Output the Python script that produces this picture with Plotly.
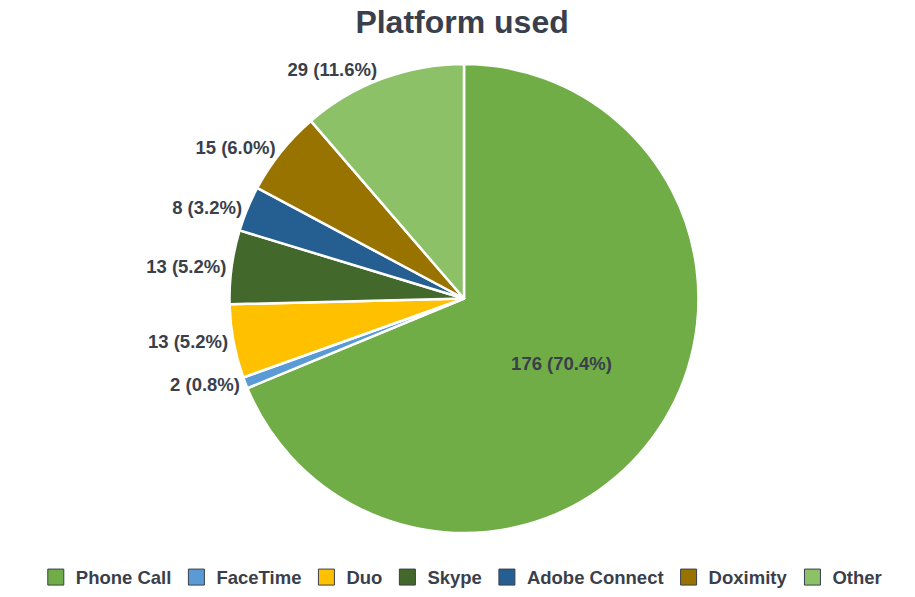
import plotly.graph_objects as go

platforms = ["Phone Call", "FaceTime", "Duo", "Skype", "Adobe Connect", "Doximity", "Other"]
counts = [176, 2, 13, 13, 8, 15, 29]
percent_labels = [70.4, 0.8, 5.2, 5.2, 3.2, 6.0, 11.6]
colors = ["#70AD47", "#5B9BD5", "#FFC000", "#43682B", "#255E91", "#997300", "#8CC168"]
text_positions = ["inside", "outside", "outside", "outside", "outside", "outside", "outside"]

TXT = "#3A3F4B"
FONT = "Liberation Sans"

fig = go.Figure()
fig.add_trace(go.Pie(
    labels=platforms,
    values=counts,
    customdata=percent_labels,
    sort=False,
    direction="clockwise",
    rotation=0,
    marker=dict(colors=colors, line=dict(color="white", width=2.5)),
    texttemplate="%{value} (%{customdata:.1f}%)",
    textposition=text_positions,
    textfont=dict(family=FONT, size=18.5, color=TXT, weight="bold"),
    insidetextorientation="horizontal",
    automargin=False,
    showlegend=False,
    hoverinfo="label+value",
))

# legend entries (swatches with dark outline, like the reference)
for name, col in zip(platforms, colors):
    fig.add_trace(go.Scatter(
        x=[None], y=[None], mode="markers", name=name,
        marker=dict(symbol="square", size=22, color=col, line=dict(color="#3A3F4B", width=1)),
        showlegend=True, hoverinfo="skip",
    ))

fig.update_layout(
    width=915, height=597,
    margin=dict(l=13, r=0, t=64, b=61),
    paper_bgcolor="white",
    plot_bgcolor="white",
    xaxis=dict(visible=False),
    yaxis=dict(visible=False),
    title=dict(text="Platform used", x=0.505, xanchor="center", y=0.963, yanchor="middle",
               font=dict(family=FONT, size=32, color=TXT, weight="bold")),
    legend=dict(orientation="h", x=0.497, xanchor="center", y=-0.095, yanchor="middle",
                font=dict(family=FONT, size=18.5, color=TXT, weight="bold"),
                itemwidth=30, traceorder="normal", itemsizing="trace"),
)

fig.write_html("out.html")
